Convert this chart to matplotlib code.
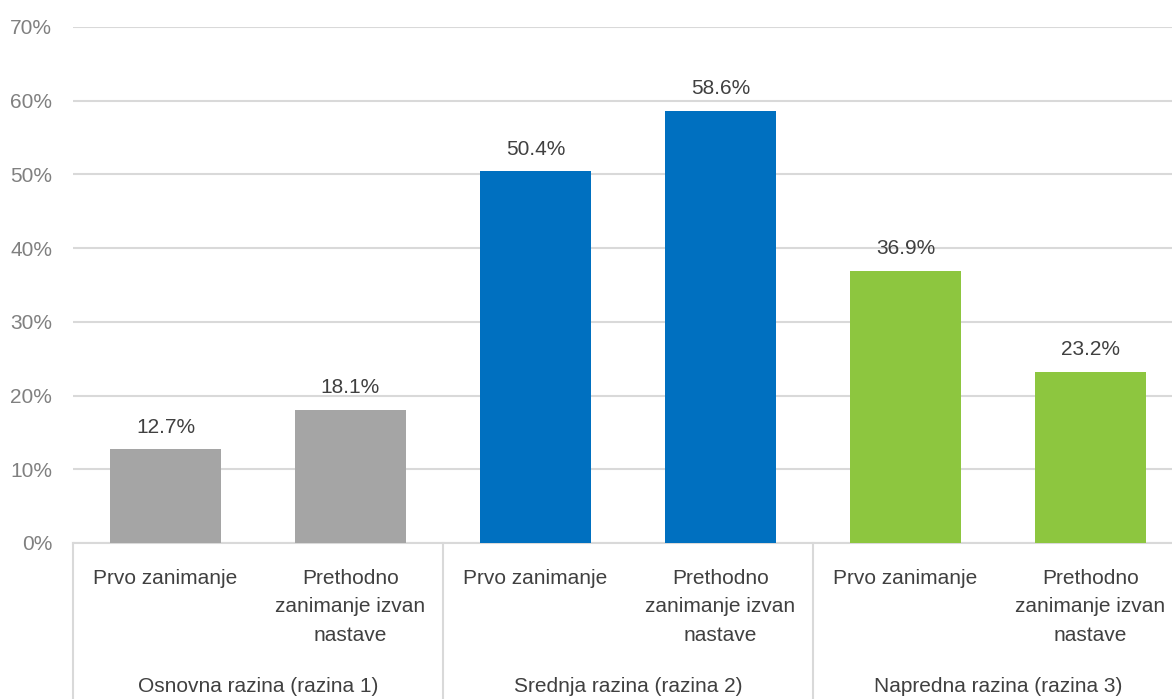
import matplotlib.pyplot as plt
import matplotlib.transforms as mtransforms

plt.rcParams['font.family'] = ['Liberation Sans Narrow', 'Liberation Sans', 'DejaVu Sans']

sub_labels = ["Prvo zanimanje", "Prethodno\nzanimanje izvan\nnastave"] * 3
group_labels = ["Osnovna razina (razina 1)", "Srednja razina (razina 2)", "Napredna razina (razina 3)"]
values = [12.7, 18.1, 50.4, 58.6, 36.9, 23.2]
colors = ["#A5A5A5", "#A5A5A5", "#0070C0", "#0070C0", "#8DC63F", "#8DC63F"]

fig = plt.figure(figsize=(11.72, 6.99), dpi=100)
ax = fig.add_axes([73 / 1172, 1 - 543 / 699, 1110 / 1172, 516 / 699])

x = list(range(len(values)))
bars = ax.bar(x, values, width=0.595, color=colors, zorder=3)
for xi, v in zip(x, values):
    ax.text(xi, v + 3.0, f"{v:.1f}%", ha="center", va="center", fontsize=15, color="#404040")

ax.set_xlim(-0.5, 5.5)
ax.set_ylim(0, 70)
ax.set_yticks(range(0, 71, 10))
ax.set_yticklabels([f"{t}%" for t in range(0, 71, 10)], fontsize=15, color="#808080")
ax.tick_params(axis="y", length=0, pad=15)
ax.set_xticks([])
ax.grid(axis="y", color="#D9D9D9", linewidth=1.5, zorder=0)
for s in ["top", "right", "left"]:
    ax.spines[s].set_visible(False)
ax.spines["bottom"].set_color("#D9D9D9")
ax.spines["bottom"].set_linewidth(1.5)

trans = mtransforms.blended_transform_factory(ax.transData, ax.transAxes)
for xi, lab in zip(x, sub_labels):
    ax.text(xi, -26 / 516, lab, transform=trans, ha="center", va="top",
            fontsize=15, color="#404040", linespacing=1.62)
for g, lab in enumerate(group_labels):
    ax.text(2 * g + 0.5, -143 / 516, lab, transform=trans, ha="center", va="center",
            fontsize=15, color="#404040")
for xs in [-0.5, 1.5, 3.5, 5.5]:
    ax.plot([xs, xs], [0, -160 / 516], transform=trans, color="#D9D9D9",
            linewidth=1.5, clip_on=False)

fig.savefig("out.png", dpi=100)
